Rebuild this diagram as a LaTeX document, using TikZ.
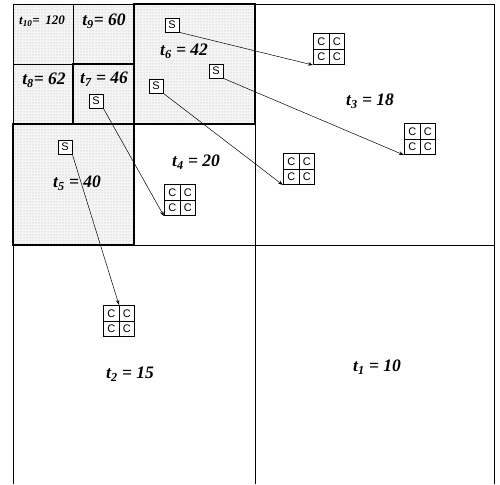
\documentclass[tikz,border=0pt]{standalone}
\usepackage{fontspec}
\setmainfont{Liberation Serif}
\newfontfamily\csf{Liberation Sans}
\usepackage{tikz}
\usetikzlibrary{patterns,matrix,arrows.meta}
\tikzset{
Ombre/.style={
 fill=gray!8,
 postaction={pattern=dots, pattern color=gray!60}
 },
Fin/.style={
 draw=black,
 line width=0.7pt
 },
Bord/.style={
 draw=black,
 line width=2.2pt
 },
Etiq/.style={
 font=\fontsize{17.5}{20}\selectfont\bfseries\itshape,
 inner sep=0pt
 },
Boite/.style={
 draw=black,
 fill=white,
 line width=0.7pt,
 minimum size=14pt,
 inner sep=0pt,
 font=\csf\fontsize{11}{11}\selectfont
 },
Grille/.style={
 matrix of nodes,
 inner sep=0pt,
 column sep=-0.7pt,
 row sep=-0.7pt,
 nodes={Boite, minimum size=15.5pt}
 },
Fleche/.style={
 draw=black,
 line width=0.5pt,
 -{Stealth[length=5pt,width=3.5pt]}
 }
}
\begin{document}
\begin{tikzpicture}[x=1pt,y=-1pt]
\useasboundingbox (0,0) rectangle (500,484);
% zones ombrees
\path[Ombre] (13,4) -- (255,4) -- (255,124) -- (134,124) -- (134,245) -- (13,245) -- cycle;
% decoupage
\draw[Fin] (13,484) -- (13,4) -- (494,4) -- (494,484);
\draw[Fin] (255,4) -- (255,484);
\draw[Fin] (13,245) -- (494,245);
\draw[Fin] (134,4) -- (134,245);
\draw[Fin] (13,124) -- (255,124);
\draw[Fin] (73,4) -- (73,124);
\draw[Fin] (13,64) -- (134,64);
\draw[Bord] (134,4) rectangle (255,124);
\draw[Bord] (73,64) rectangle (134,124);
\draw[Bord] (13,124) rectangle (134,245);
% etiquettes
\node[Etiq, font=\fontsize{13}{15}\selectfont\bfseries\itshape] (l10) at (42,21) {t\textsubscript{10}= \,120};
\node[Etiq] (l9) at (104,21) {t\textsubscript{9}= 60};
\node[Etiq] (l6) at (184,51) {t\textsubscript{6} = 42};
\node[Etiq] (l8) at (44,80) {t\textsubscript{8}= 62};
\node[Etiq] (l7) at (104,79) {t\textsubscript{7} = 46};
\node[Etiq] (l5) at (77,183) {t\textsubscript{5} = 40};
\node[Etiq] (l4) at (196,162) {t\textsubscript{4} = 20};
\node[Etiq] (l3) at (370,101) {t\textsubscript{3} = 18};
\node[Etiq] (l2) at (130,374) {t\textsubscript{2} = 15};
\node[Etiq] (l1) at (377,367) {t\textsubscript{1} = 10};
% sources
\node[Boite] (s1) at (172,25) {S};
\node[Boite] (s2) at (216,71) {S};
\node[Boite] (s3) at (156,86) {S};
\node[Boite] (s4) at (96,101) {S};
\node[Boite] (s5) at (65,147) {S};
% cibles
\matrix[Grille] (c1) at (329,49) {C & C\\ C & C\\};
\matrix[Grille] (c2) at (420,139) {C & C\\ C & C\\};
\matrix[Grille] (c3) at (299,169) {C & C\\ C & C\\};
\matrix[Grille] (c4) at (180,200) {C & C\\ C & C\\};
\matrix[Grille] (c5) at (119,321) {C & C\\ C & C\\};
% liens
\draw[Fleche] (s1.south east) -- (c1.south west);
\draw[Fleche] (s2.south east) -- (c2.south west);
\draw[Fleche] (s3.south east) -- (c3.south west);
\draw[Fleche] (s4.south east) -- (c4.south west);
\draw[Fleche] (s5.south east) -- (c5.north);
\end{tikzpicture}
\end{document}
